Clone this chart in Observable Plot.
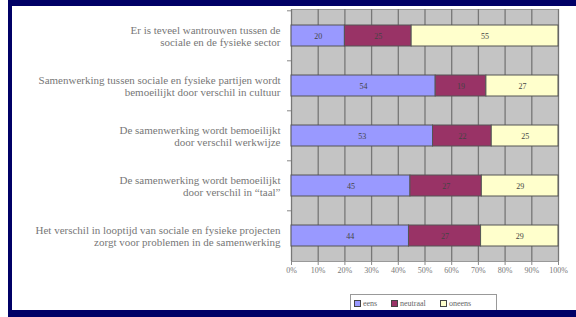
<!DOCTYPE html>
<html><head><meta charset="utf-8">
<script src="https://cdn.jsdelivr.net/npm/d3@7"></script>
<script src="https://cdn.jsdelivr.net/npm/@observablehq/plot@0.6"></script>
<style>
body{margin:0;background:#fff;}
#wrap{position:relative;width:576px;height:317px;overflow:hidden;background:#fff;font-family:"Liberation Serif",serif;}
#chart{position:absolute;left:0;top:0;}
.nav{position:absolute;background:#000066;}
#legend{position:absolute;left:350px;top:294px;width:147px;height:22px;border:1px solid #999;background:#fff;box-sizing:border-box;font-size:8px;color:#666;}
#legend .it{position:absolute;top:4px;display:flex;align-items:center;}
#legend .sw{width:5px;height:5px;border:1px solid #444;margin-right:2px;}
</style></head><body>
<div id="wrap">
<div id="chart"></div>
<div id="legend"></div>
<div class="nav" style="left:8px;top:0;width:568px;height:6px"></div>
<div class="nav" style="left:8px;top:0;width:4px;height:317px"></div>
<div class="nav" style="left:8px;top:310px;width:568px;height:7px"></div>
</div>
<script>
const categories = [
  "Er is teveel wantrouwen tussen de\nsociale en de fysieke sector",
  "Samenwerking tussen sociale en fysieke partijen wordt\nbemoeilijkt door verschil in cultuur",
  "De samenwerking wordt bemoeilijkt\ndoor verschil werkwijze",
  "De samenwerking wordt bemoeilijkt\ndoor verschil in \u201Ctaal\u201D",
  "Het verschil in looptijd van sociale en fysieke projecten\nzorgt voor problemen in de samenwerking"
];
const series = ["eens", "neutraal", "oneens"];
const eens = [20, 54, 53, 45, 44];
const neutraal = [25, 19, 22, 27, 27];
const oneens = [55, 27, 25, 29, 29];
const seriesColors = ["#9999ff", "#993366", "#ffffcc"];
const xTickLabels = ["0%","10%","20%","30%","40%","50%","60%","70%","80%","90%","100%"];

const values = [eens, neutraal, oneens];
const rows = [];
categories.forEach((c, i) => {
  series.forEach((s, j) => rows.push({cat: c, series: s, value: values[j][i]}));
});
const xTicks = xTickLabels.map((_, i) => i / (xTickLabels.length - 1));

const chart = Plot.plot({
  width: 576, height: 290,
  marginLeft: 291, marginRight: 18, marginTop: 9, marginBottom: 29,
  style: {background: "transparent", fontFamily: "'Liberation Serif', serif"},
  x: {domain: [0, 1]},
  y: {domain: categories, paddingInner: 0.58, paddingOuter: 0.29},
  color: {domain: series, range: seriesColors},
  marks: [
    Plot.frame({fill: "#c4c4c4", stroke: "#999"}),
    Plot.gridX(xTicks, {stroke: "#777", strokeOpacity: 1, strokeWidth: 1.3}),
    Plot.barX(rows, Plot.stackX({x: "value", y: "cat", fill: "series", offset: "normalize", stroke: "#555", strokeWidth: 1})),
    Plot.text(rows, Plot.stackX({x: "value", y: "cat", z: "series", text: d => String(d.value), offset: "normalize", fontSize: 8, fill: "#444"})),
    Plot.axisX({ticks: xTicks, tickFormat: d => xTickLabels[Math.round(d * 10)], tickSize: 4, tickPadding: 2, fontSize: 8, fill: "#777", stroke: "#888", label: null}),
    Plot.axisY({tickSize: 0, tickPadding: 11, fontSize: 11, fill: "#777", lineHeight: 1.15, label: null}),
    Plot.axisY({tickSize: 4, tickFormat: () => "", dy: -25.2, stroke: "#888", label: null})
  ]
});
document.getElementById("chart").appendChild(chart);

const leg = document.getElementById("legend");
const legendOffsets = [3, 40, 89];
series.forEach((s, j) => {
  const it = document.createElement("div");
  it.className = "it";
  it.style.left = legendOffsets[j] + "px";
  const sw = document.createElement("div");
  sw.className = "sw";
  sw.style.background = seriesColors[j];
  const t = document.createElement("span");
  t.textContent = s;
  it.appendChild(sw); it.appendChild(t);
  leg.appendChild(it);
});
</script>
</body></html>
